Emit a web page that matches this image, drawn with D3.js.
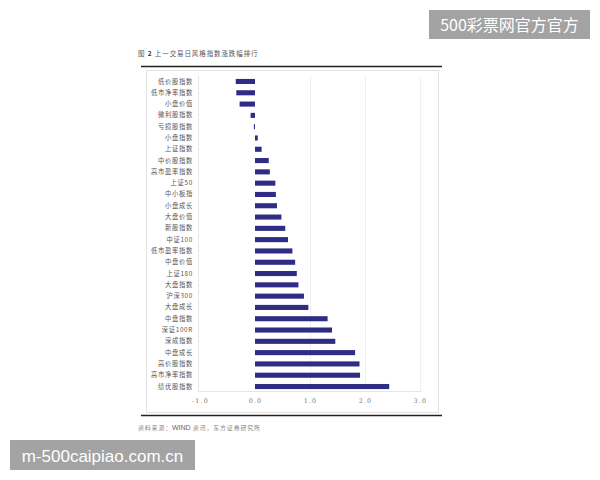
<!DOCTYPE html>
<html>
<head>
<meta charset="utf-8">
<script src="https://cdn.jsdelivr.net/npm/d3@7"></script>
<style>
  body { margin: 0; background: #fff; }
  svg { display: block; }
</style>
</head>
<body>
<svg id="chart"></svg>
<script>
// style index daily change ranking, top to bottom
const categories = ['低价股指数', '低市净率指数', '小盘价值', '微利股指数', '亏损股指数', '小盘指数', '上证指数',
  '中价股指数', '高市盈率指数', '上证50', '中小板指', '小盘成长', '大盘价值', '新股指数', '中证100',
  '低市盈率指数', '中盘价值', '上证180', '大盘指数', '沪深300', '大盘成长', '中盘指数', '深证100R',
  '深成指数', '中盘成长', '高价股指数', '高市净率指数', '绩优股指数'];
const values = [-0.35, -0.34, -0.28, -0.08, -0.02, 0.05, 0.12,
  0.25, 0.27, 0.37, 0.38, 0.40, 0.48, 0.55, 0.60,
  0.68, 0.73, 0.76, 0.79, 0.89, 0.97, 1.32, 1.40,
  1.46, 1.82, 1.90, 1.91, 2.44];
const xTicks = [-1, 0, 1, 2, 3];

const width = 600;
const height = 480;
const svg = d3.select('#chart').attr('width', width).attr('height', height);

const cjk = '"Noto Sans CJK SC", "Noto Sans", sans-serif';

// title
const title = svg.append('text')
  .attr('x', 138).attr('y', 56)
  .attr('font-family', cjk).attr('font-size', 6.5)
  .attr('letter-spacing', 0.9).attr('fill', '#555');
title.append('tspan').text('图 ');
title.append('tspan').attr('font-weight', 'bold').attr('fill', '#333').text('2');
title.append('tspan').text(' 上一交易日风格指数涨跌幅排行');

// heavy rules and light frame
svg.append('line').attr('x1', 141).attr('x2', 442).attr('y1', 66.5).attr('y2', 66.5)
  .attr('stroke', '#222').attr('stroke-width', 1.3);
svg.append('line').attr('x1', 141).attr('x2', 442).attr('y1', 415.5).attr('y2', 415.5)
  .attr('stroke', '#222').attr('stroke-width', 1.3);
svg.append('rect').attr('x', 146.5).attr('y', 70.5).attr('width', 292).attr('height', 342)
  .attr('fill', 'none').attr('stroke', '#e2e2e2');

const x = d3.scaleLinear().domain([-1, 3]).range([200, 420]);
const y = d3.scaleBand().domain(categories).range([76, 392])
  .paddingInner(0.55).paddingOuter(0.26);

// light grid
svg.append('g')
  .selectAll('line')
  .data(xTicks.slice(1))
  .enter().append('line')
  .attr('x1', d => x(d) + 0.5).attr('x2', d => x(d) + 0.5)
  .attr('y1', 76).attr('y2', 392)
  .attr('stroke', d => d === 0 ? 'none' : '#f0f0f0');

svg.append('line').attr('x1', 198.5).attr('x2', 198.5).attr('y1', 76).attr('y2', 392)
  .attr('stroke', '#e6e6e6');
svg.append('line').attr('x1', 198).attr('x2', 422).attr('y1', 391.5).attr('y2', 391.5)
  .attr('stroke', '#e6e6e6');

// bars
svg.append('g')
  .selectAll('rect')
  .data(categories)
  .enter().append('rect')
  .attr('x', (d, i) => Math.min(x(0), x(values[i])))
  .attr('width', (d, i) => Math.abs(x(values[i]) - x(0)))
  .attr('y', d => y(d))
  .attr('height', y.bandwidth())
  .attr('fill', '#2f2c85');

// category labels
const yAxis = d3.axisLeft(y).tickSize(0).tickPadding(0);
svg.append('g')
  .attr('transform', 'translate(193,0)')
  .call(yAxis)
  .call(g => g.select('.domain').remove())
  .selectAll('text')
  .attr('font-family', cjk).attr('font-size', 6.3)
  .attr('letter-spacing', 0.7).attr('fill', '#555');

// x tick labels
const xAxis = d3.axisBottom(x).tickValues(xTicks).tickSize(0).tickPadding(0)
  .tickFormat(d => d3.format('.1f')(d).replace('−', '-'));
svg.append('g')
  .attr('transform', 'translate(0,399)')
  .call(xAxis)
  .call(g => g.select('.domain').remove())
  .selectAll('text')
  .attr('font-family', '"DejaVu Serif", serif').attr('font-size', 6.3)
  .attr('letter-spacing', 1.2).attr('fill', '#777');

// source
const src = svg.append('text')
  .attr('x', 138).attr('y', 430)
  .attr('font-family', cjk).attr('font-size', 6)
  .attr('letter-spacing', 0.8).attr('fill', '#888');
src.append('tspan').text('资料来源：');
src.append('tspan').attr('font-family', 'Arial, "Liberation Sans", sans-serif').attr('letter-spacing', 0).attr('font-size', 7).attr('fill', '#666').text('WIND');
src.append('tspan').text(' 资讯，东方证券研究所');

// watermarks
svg.append('rect').attr('x', 429).attr('y', 10).attr('width', 161).attr('height', 29).attr('fill', '#a3a3a3');
svg.append('text').attr('x', 509.5).attr('y', 31).attr('text-anchor', 'middle')
  .attr('font-family', cjk).attr('font-size', 16).attr('fill', '#fff')
  .text('500彩票网官方官方');
svg.append('rect').attr('x', 10).attr('y', 440).attr('width', 185).attr('height', 30).attr('fill', '#a3a3a3');
svg.append('text').attr('x', 102.5).attr('y', 461.5).attr('text-anchor', 'middle')
  .attr('font-family', '"Liberation Sans", Arial, sans-serif').attr('font-size', 17).attr('fill', '#fff')
  .text('m-500caipiao.com.cn');
</script>
</body>
</html>
